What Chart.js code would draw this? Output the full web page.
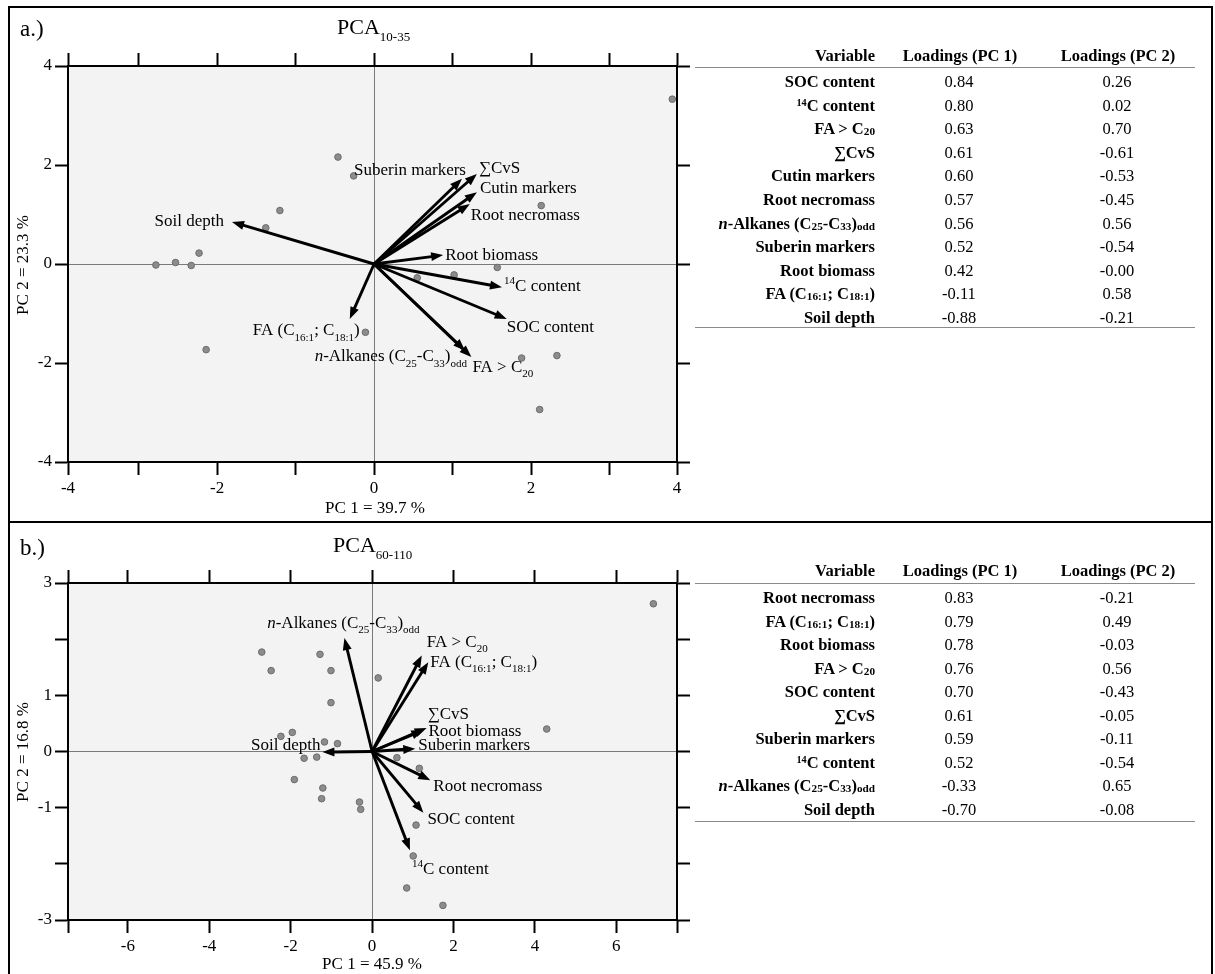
<!DOCTYPE html>
<html>
<head>
<meta charset="utf-8">
<script src="https://cdn.jsdelivr.net/npm/chart.js@4.4.1/dist/chart.umd.min.js"></script>
<style>
  body { margin: 0; background: #fff; }
  #fig { position: relative; width: 1215px; height: 974px; overflow: hidden; font-family: "Liberation Serif", "Times New Roman", serif; color: #000; }
  canvas { position: absolute; left: 0; }
  .txt { position: absolute; white-space: nowrap; line-height: 1; }
  .tbl { font-size: 16.5px; }
  .tbl b sub, .tbl sub { font-size: 0.68em; vertical-align: -0.12em; line-height: 0; }
  .tbl sup { font-size: 0.62em; vertical-align: 0.5em; line-height: 0; }
  .hline { position: absolute; height: 1.5px; background: #8a8a8a; }
</style>
</head>
<body>
<div id="fig">
  <canvas id="pcaTop" width="700" height="522" style="top:0"></canvas>
  <canvas id="pcaBottom" width="700" height="452" style="top:522px"></canvas>
  <div style="position:absolute;left:8px;top:6px;width:1205px;height:972px;border:2px solid #000;box-sizing:border-box;"></div>
  <div style="position:absolute;left:8px;top:521px;width:1205px;height:2px;background:#000;"></div>
</div>
<script>
// panel a) PCA 10-35
const topPointsX = [3.80, -0.46, -0.26, -1.20, -1.38, -2.23, -2.33, -2.78, -2.53, 2.13, 1.57, 1.02, 0.55, -0.11, -2.14, 1.88, 2.33, 2.11];
const topPointsY = [3.33, 2.16, 1.78, 1.08, 0.73, 0.22, -0.03, -0.02, 0.03, 1.18, -0.07, -0.22, -0.28, -1.38, -1.73, -1.90, -1.85, -2.94];
const topArrowNames = ['Soil depth', 'Suberin markers', '∑CvS', 'Cutin markers', 'Root necromass', 'Root biomass',
  '^{14}C content', 'SOC content', 'FA > C_{20}', '<i>n</i>-Alkanes (C_{25}-C_{33})_{odd}', 'FA (C_{16:1}; C_{18:1})'];
const topArrowX = [-1.81, 1.12, 1.31, 1.31, 1.22, 0.88, 1.63, 1.69, 1.24, 1.16, -0.31];
const topArrowY = [0.85, 1.72, 1.82, 1.45, 1.21, 0.18, -0.47, -1.11, -1.88, -1.75, -1.11];
const topXTicks = [-3.9, -3, -2, -1, 0, 1, 2, 3, 3.86];
const topXTickLabels = ['-4', '', '-2', '', '0', '', '2', '', '4'];
const topYTicks = [-4, -2, 0, 2, 4];
const topYTickLabels = ['-4', '-2', '0', '2', '4'];

const topTableVars = ['SOC content', '^{14}C content', 'FA > C_{20}', '∑CvS', 'Cutin markers', 'Root necromass',
  '<i>n</i>-Alkanes (C_{25}-C_{33})_{odd}', 'Suberin markers', 'Root biomass', 'FA (C_{16:1}; C_{18:1})', 'Soil depth'];
const topTablePC1 = ['0.84', '0.80', '0.63', '0.61', '0.60', '0.57', '0.56', '0.52', '0.42', '-0.11', '-0.88'];
const topTablePC2 = ['0.26', '0.02', '0.70', '-0.61', '-0.53', '-0.45', '0.56', '-0.54', '-0.00', '0.58', '-0.21'];

// panel b) PCA 60-110
const botPointsX = [-2.71, -1.28, -2.48, -1.01, 0.15, -1.01, 4.29, -2.24, -1.96, -1.17, -0.85, -1.67, -1.36, 0.61, 1.16, -1.91, -1.21, -1.24, -0.31, -0.28, 1.08, 1.01, 0.85, 1.74, 6.91];
const botPointsY = [1.77, 1.73, 1.44, 1.44, 1.31, 0.87, 0.40, 0.27, 0.34, 0.17, 0.14, -0.12, -0.10, -0.11, -0.30, -0.50, -0.65, -0.84, -0.90, -1.03, -1.31, -1.86, -2.43, -2.74, 2.63];
const botArrowNames = ['<i>n</i>-Alkanes (C_{25}-C_{33})_{odd}', 'FA > C_{20}', 'FA (C_{16:1}; C_{18:1})', '∑CvS', 'Root biomass',
  'Suberin markers', 'Soil depth', 'Root necromass', 'SOC content', '^{14}C content'];
const botArrowX = [-0.68, 1.22, 1.38, 1.34, 1.26, 1.06, -1.22, 1.43, 1.26, 0.93];
const botArrowY = [2.02, 1.71, 1.59, 0.42, 0.38, 0.05, -0.01, -0.51, -1.09, -1.76];
const botXTicks = [-7.47, -6, -4, -2, 0, 2, 4, 6, 7.49];
const botXTickLabels = ['', '-6', '-4', '-2', '0', '2', '4', '6', ''];
const botYTicks = [-3, -2, -1, 0, 1, 2, 3];
const botYTickLabels = ['-3', '', '-1', '0', '1', '', '3'];

const botTableVars = ['Root necromass', 'FA (C_{16:1}; C_{18:1})', 'Root biomass', 'FA > C_{20}', 'SOC content', '∑CvS',
  'Suberin markers', '^{14}C content', '<i>n</i>-Alkanes (C_{25}-C_{33})_{odd}', 'Soil depth'];
const botTablePC1 = ['0.83', '0.79', '0.78', '0.76', '0.70', '0.61', '0.59', '0.52', '-0.33', '-0.70'];
const botTablePC2 = ['-0.21', '0.49', '-0.03', '0.56', '-0.43', '-0.05', '-0.11', '-0.54', '0.65', '-0.08'];

// label placement next to arrow tips: [dx px, dy px, align]
const topLabelLayout = [[-8, 0, 'right'], [4, -8, 'right'], [2, -5, 'left'], [3, -4, 'left'], [1, 11, 'left'], [2, 0, 'left'],
  [2, -1, 'left'], [0, 9, 'left'], [1, 10, 'left'], [2, 6, 'right'], [10, 12, 'right']];
const botLabelLayout = [[-1, -15, 'center'], [5, -13, 'left'], [2, 0, 'left'], [1, -13, 'left'], [5, 1, 'left'],
  [3, -3, 'left'], [-2, -7, 'right'], [3, 6, 'left'], [4, 7, 'left'], [2, 19, 'left']];

const SERIF = '"Liberation Serif", "Times New Roman", serif';

function parseRich(s) {
  const parts = [];
  const re = /<i>(.*?)<\/i>|_\{(.*?)\}|\^\{(.*?)\}|([^<_^]+)/g;
  let m;
  while ((m = re.exec(s))) {
    if (m[1] !== undefined) parts.push({ t: m[1], k: 'i' });
    else if (m[2] !== undefined) parts.push({ t: m[2], k: 'sub' });
    else if (m[3] !== undefined) parts.push({ t: m[3], k: 'sup' });
    else parts.push({ t: m[4], k: 'n' });
  }
  return parts;
}

function drawRich(ctx, s, x, y, align, size) {
  const parts = parseRich(s);
  const fontFor = p => (p.k === 'i' ? 'italic ' : '') + (p.k === 'sub' || p.k === 'sup' ? size * 0.65 : size) + 'px ' + SERIF;
  let w = 0;
  parts.forEach(p => { ctx.font = fontFor(p); p.w = ctx.measureText(p.t).width; w += p.w; });
  let cx = align === 'right' ? x - w : align === 'center' ? x - w / 2 : x;
  ctx.textBaseline = 'middle';
  ctx.textAlign = 'left';
  ctx.fillStyle = '#000';
  parts.forEach(p => {
    ctx.font = fontFor(p);
    const dy = p.k === 'sub' ? size * 0.42 : p.k === 'sup' ? -size * 0.3 : 0;
    ctx.fillText(p.t, cx, y + dy);
    cx += p.w;
  });
}

function drawArrow(ctx, x0, y0, x1, y1) {
  const a = Math.atan2(y1 - y0, x1 - x0), c = Math.cos(a), s = Math.sin(a);
  const L = 12, W = 4.5;
  ctx.beginPath();
  ctx.moveTo(x0, y0);
  ctx.lineTo(x1 - L * 0.8 * c, y1 - L * 0.8 * s);
  ctx.lineWidth = 2.9;
  ctx.strokeStyle = '#000';
  ctx.stroke();
  ctx.beginPath();
  ctx.moveTo(x1, y1);
  ctx.lineTo(x1 - L * c + W * s, y1 - L * s - W * c);
  ctx.lineTo(x1 - L * c - W * s, y1 - L * s + W * c);
  ctx.closePath();
  ctx.fillStyle = '#000';
  ctx.fill();
}

const plotBg = {
  id: 'plotBg',
  beforeDraw(chart) {
    const { ctx, chartArea: a } = chart;
    ctx.save();
    ctx.fillStyle = '#f3f3f3';
    ctx.fillRect(a.left, a.top, a.right - a.left, a.bottom - a.top);
    ctx.restore();
  }
};

function biplot(names, ax, ay, layout) {
  return {
    id: 'biplot',
    afterDatasetsDraw(chart) {
      const { ctx, scales: { x, y } } = chart;
      const ox = x.getPixelForValue(0), oy = y.getPixelForValue(0);
      ctx.save();
      names.forEach((n, i) => {
        drawArrow(ctx, ox, oy, x.getPixelForValue(ax[i]), y.getPixelForValue(ay[i]));
      });
      names.forEach((n, i) => {
        const [dx, dy, al] = layout[i];
        drawRich(ctx, n, x.getPixelForValue(ax[i]) + dx, y.getPixelForValue(ay[i]) + dy, al, 17);
      });
      ctx.restore();
    }
  };
}

function axis(pos, min, max, ticks, labels, zeroLine, size) {
  const horiz = pos === 'top' || pos === 'bottom';
  return {
    type: 'linear', position: pos, min, max,
    afterBuildTicks: s => { s.ticks = ticks.map(v => ({ value: v })); },
    afterFit: s => { if (horiz) s.height = size; else s.width = size; },
    ticks: {
      autoSkip: false, maxRotation: 0, padding: 3, color: '#000',
      font: { family: SERIF, size: 17 },
      callback: (v, i) => labels ? labels[i] : ''
    },
    grid: {
      drawOnChartArea: zeroLine,
      color: c => (zeroLine && c.tick && c.tick.value === 0) ? '#7a7a7a' : 'rgba(0,0,0,0)',
      lineWidth: 1, tickColor: '#000', tickWidth: 2, tickLength: 13
    },
    border: { display: true, color: '#000', width: 2 }
  };
}

function makePanel(id, c) {
  return new Chart(document.getElementById(id), {
    type: 'scatter',
    data: {
      datasets: [{
        data: c.px.map((v, i) => ({ x: v, y: c.py[i] })),
        pointRadius: 3.3, pointBackgroundColor: '#8c8c8c', pointBorderColor: '#6c6c6c', pointBorderWidth: 1
      }]
    },
    options: {
      responsive: false, animation: false,
      layout: { padding: 0 },
      plugins: { legend: { display: false }, tooltip: { enabled: false } },
      scales: {
        x: axis('bottom', c.xMin, c.xMax, c.xTicks, c.xLabels, true, c.bottomH),
        x2: axis('top', c.xMin, c.xMax, c.topTicks, null, false, c.topH),
        y: axis('left', c.yMin, c.yMax, c.yTicks, c.yLabels, true, 68),
        y2: axis('right', c.yMin, c.yMax, c.yTicks, null, false, 23)
      }
    },
    plugins: [plotBg, biplot(c.names, c.ax, c.ay, c.layout)]
  });
}

makePanel('pcaTop', {
  px: topPointsX, py: topPointsY, names: topArrowNames, ax: topArrowX, ay: topArrowY, layout: topLabelLayout,
  xMin: -3.9, xMax: 3.86, xTicks: topXTicks, xLabels: topXTickLabels, topTicks: topXTicks,
  yMin: -4, yMax: 4, yTicks: topYTicks, yLabels: topYTickLabels, topH: 66, bottomH: 60
});

makePanel('pcaBottom', {
  px: botPointsX, py: botPointsY, names: botArrowNames, ax: botArrowX, ay: botArrowY, layout: botLabelLayout,
  xMin: -7.47, xMax: 7.49, xTicks: botXTicks, xLabels: botXTickLabels, topTicks: botXTicks,
  yMin: -3, yMax: 3, yTicks: botYTicks, yLabels: botYTickLabels, topH: 61, bottomH: 54
});

// texts and tables
const fig = document.getElementById('fig');
function toHtml(s) {
  return s.replace(/ > /g, ' &gt; ').replace(/_\{(.*?)\}/g, '<sub>$1</sub>').replace(/\^\{(.*?)\}/g, '<sup>$1</sup>');
}
function addText(html, x, y, align, style, cls) {
  const d = document.createElement('div');
  d.className = 'txt' + (cls ? ' ' + cls : '');
  d.innerHTML = html;
  d.style.left = x + 'px';
  d.style.top = y + 'px';
  const tx = align === 'right' ? '-100%' : align === 'center' ? '-50%' : '0';
  d.style.transform = 'translate(' + tx + ',-50%)';
  if (style) d.style.cssText += style;
  fig.appendChild(d);
  return d;
}
function addLine(x, y, w) {
  const d = document.createElement('div');
  d.className = 'hline';
  d.style.left = x + 'px'; d.style.top = y + 'px'; d.style.width = w + 'px';
  fig.appendChild(d);
}
function buildTable(vars, pc1, pc2, headY, lineY, rowY0, step, endY) {
  addText('<b>Variable</b>', 875, headY, 'right', '', 'tbl');
  addText('<b>Loadings (PC 1)</b>', 960, headY, 'center', '', 'tbl');
  addText('<b>Loadings (PC 2)</b>', 1118, headY, 'center', '', 'tbl');
  addLine(695, lineY, 500);
  vars.forEach((v, i) => {
    const y = rowY0 + i * step;
    addText('<b>' + toHtml(v) + '</b>', 875, y, 'right', '', 'tbl');
    addText(pc1[i], 959, y, 'center', '', 'tbl');
    addText(pc2[i], 1117, y, 'center', '', 'tbl');
  });
  addLine(695, endY, 500);
}

addText('a.)', 20, 28, 'left', 'font-size:23px;');
addText('PCA<span style="font-size:13px;position:relative;top:7px">10-35</span>', 337, 27, 'left', 'font-size:22px;');
addText('PC 1 = 39.7 %', 375, 507, 'center', 'font-size:17px;');
addText('PC 2 = 23.3 %', 22, 265, 'left', 'font-size:17px;transform:translate(-50%,-50%) rotate(-90deg);');
buildTable(topTableVars, topTablePC1, topTablePC2, 56, 66.5, 82, 23.6, 326.5);

addText('b.)', 20, 547, 'left', 'font-size:23px;');
addText('PCA<span style="font-size:13px;position:relative;top:7px">60-110</span>', 333, 545, 'left', 'font-size:22px;');
addText('PC 1 = 45.9 %', 372, 963, 'center', 'font-size:17px;');
addText('PC 2 = 16.8 %', 22, 752, 'left', 'font-size:17px;transform:translate(-50%,-50%) rotate(-90deg);');
buildTable(botTableVars, botTablePC1, botTablePC2, 571, 582.5, 598, 23.5, 820.5);
</script>
</body>
</html>
